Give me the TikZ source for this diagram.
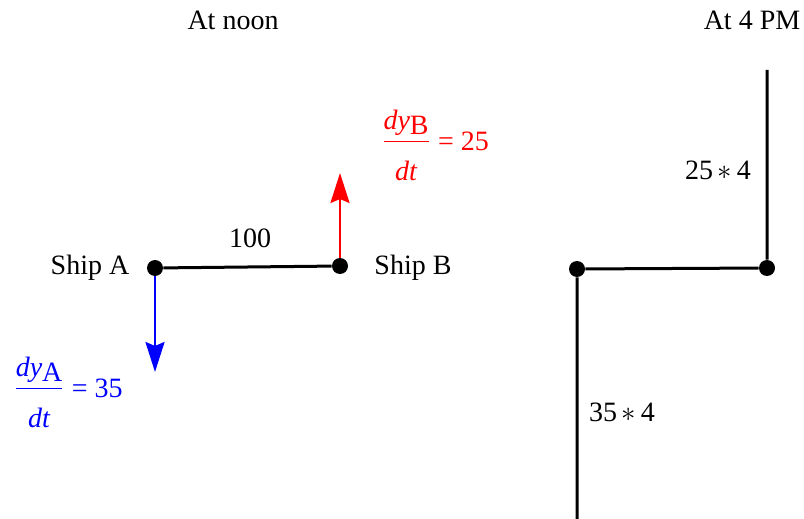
\documentclass[tikz,border=0pt]{standalone}
\usepackage{amsmath}
\usepackage{fontspec}
\setmainfont{Liberation Serif}
\usetikzlibrary{positioning, arrows.meta}

\newcommand{\rate}[2]{$\displaystyle\frac{\textit{dy}\raisebox{-0.4ex}{#1}}{\rule{0pt}{2.7ex}\textit{dt}}\vcenter{\hbox{ = #2}}$}

\begin{document}
\begin{tikzpicture}[x=0.5pt, y=-0.5pt,
    lbl/.style={font=\fontsize{14}{16}\selectfont, inner sep=0pt},
    dot/.style={circle, fill=black, inner sep=0pt, minimum size=8pt},
    seg/.style={line width=1.5pt},
    arw/.style={-{Stealth[length=15pt, width=9.5pt, inset=2pt]}, line width=1.3pt},
]
\useasboundingbox (0,0) rectangle (804,519);

% at noon
\node[lbl] (noon) at (233,20) {At noon};
\node[dot] (sa) at (155,268) {};
\node[dot] (sb) at (340,266) {};
\coordinate (ta) at (155,372);
\coordinate (tb) at (340,173);
\draw[seg] (sa) -- (sb);
\draw[arw, blue] (sa) -- (ta);
\draw[arw, red] (sb) -- (tb);

\node[lbl] (na) at (90,268) {Ship A};
\node[lbl] (nb) at (413,268) {Ship B};
\node[lbl] (dist) at (250,238) {100};
\node[lbl, text=red] (vb) at (435,145) {\rate{B}{25}};
\node[lbl, text=blue] (va) at (68,392) {\rate{A}{35}};

% at 4 PM
\node[lbl] (pm) at (752,20) {At 4 PM};
\node[dot] (pa) at (577,269) {};
\node[dot] (pb) at (767,268) {};
\coordinate (ea) at (577,519);
\coordinate (eb) at (767,70);
\draw[seg] (eb) -- (pb) -- (pa) -- (ea);

\node[lbl] (hb) at (718,170) {25\,$\ast$\,4};
\node[lbl] (ha) at (622,412) {35\,$\ast$\,4};
\end{tikzpicture}
\end{document}
